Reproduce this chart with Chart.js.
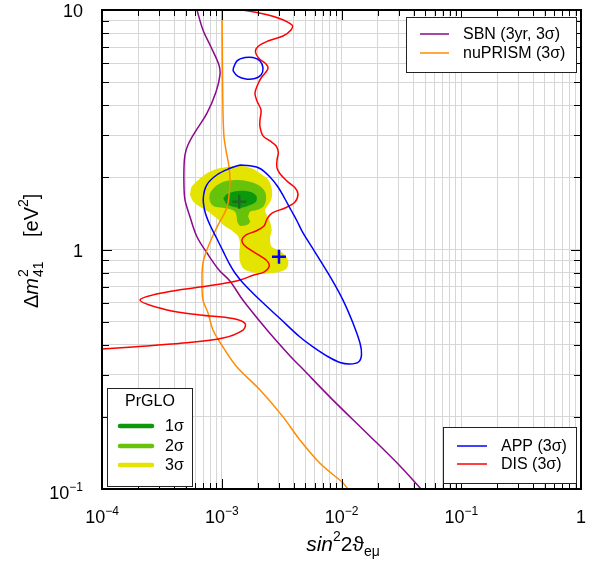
<!DOCTYPE html>
<html><head><meta charset="utf-8">
<script src="https://cdn.jsdelivr.net/npm/chart.js@4"></script>
<style>html,body{margin:0;padding:0;background:#fff;}canvas{display:block;}</style>
</head><body>
<canvas id="c" width="598" height="567"></canvas>
<script>
// ---- axis ticks ----
const xMajorTicks = [1e-4, 1e-3, 1e-2, 1e-1, 1];
const xTickBase = ['10', '10', '10', '10', '1'];
const xTickExp = ['\u22124', '\u22123', '\u22122', '\u22121', ''];
const yMajorTicks = [0.1, 1, 10];
const yTickBase = ['10', '1', '10'];
const yTickExp = ['\u22121', '', ''];
const minorSteps = [2, 3, 4, 5, 6, 7, 8, 9];

// ---- series: [sin^2 2theta, dm^2] ----
const sbn = [[6.21e-4,10],[6.97e-4,8.25],[8.13e-4,7.01],[9.48e-4,5.89],[9.66e-4,5.35],[8.95e-4,4.55],[7.53e-4,3.71],[5.98e-4,3.09],[5.22e-4,2.73],[4.93e-4,2.48],[4.84e-4,2.21],[4.84e-4,1.82],[4.93e-4,1.61],[5.43e-4,1.37],[6.21e-4,1.13],[7.53e-4,0.967],[9.48e-4,0.821],[1.17e-3,0.739],[1.50e-3,0.615],[2.39e-3,0.461],[3.72e-3,0.359],[4.50e-3,0.326],[8.49e-3,0.235],[1.63e-2,0.171],[3.08e-2,0.1248],[4.61e-2,0.1]];
const nuprism = [[1.005e-3,10],[1.01e-3,7.28],[1.023e-3,3.82],[1.044e-3,2.95],[1.084e-3,2.60],[1.15e-3,2.21],[1.17e-3,1.90],[1.107e-3,1.505],[9.12e-4,1.24],[7.68e-4,1.024],[6.97e-4,0.878],[6.84e-4,0.746],[6.97e-4,0.615],[7.68e-4,0.543],[8.45e-4,0.461],[1.023e-3,0.392],[1.34e-3,0.323],[2.09e-3,0.259],[3.25e-3,0.200],[4.50e-3,0.160],[6.61e-3,0.128],[1.03e-2,0.106],[1.13e-2,0.1]];
const dis = [[1.468e-3,10],[1.970e-3,9.76],[2.950e-3,9.26],[3.861e-3,8.66],[3.787e-3,8.25],[3.247e-3,7.79],[2.434e-3,7.42],[2.008e-3,7.04],[1.913e-3,6.68],[2.047e-3,6.27],[2.342e-3,5.95],[2.434e-3,5.73],[2.342e-3,5.51],[2.156e-3,5.25],[2.008e-3,4.91],[1.895e-3,4.50],[1.970e-3,4.17],[2.127e-3,3.82],[2.086e-3,3.47],[2.086e-3,3.25],[2.211e-3,2.98],[2.529e-3,2.84],[2.838e-3,2.71],[2.966e-3,2.55],[2.893e-3,2.36],[2.893e-3,2.19],[3.065e-3,2.07],[3.507e-3,1.93],[4.090e-3,1.81],[4.332e-3,1.705],[4.090e-3,1.58],[3.375e-3,1.49],[2.628e-3,1.42],[2.387e-3,1.34],[2.253e-3,1.253],[1.932e-3,1.195],[1.594e-3,1.15],[1.476e-3,1.096],[1.534e-3,1.044],[1.789e-3,0.986],[2.168e-3,0.930],[2.434e-3,0.886],[2.481e-3,0.845],[2.253e-3,0.805],[1.859e-3,0.782],[1.420e-3,0.746],[1.085e-3,0.725],[6.58e-4,0.697],[3.49e-4,0.665],[2.077e-4,0.615],[3.49e-4,0.559],[6.58e-4,0.533],[1.242e-3,0.515],[1.564e-3,0.491],[1.505e-3,0.461],[1.024e-3,0.427],[4.75e-4,0.407],[1.815e-4,0.392],[1.0e-4,0.384]];
const app = [[1.420e-3,2.253],[1.722e-3,2.236],[2.086e-3,2.179],[2.529e-3,2.008],[2.950e-3,1.824],[3.375e-3,1.625],[3.787e-3,1.462],[4.250e-3,1.315],[4.770e-3,1.172],[6.007e-3,0.976],[8.172e-3,0.760],[1.029e-2,0.615],[1.247e-2,0.493],[1.427e-2,0.407],[1.469e-2,0.363],[1.387e-2,0.339],[1.178e-2,0.3326],[9.716e-3,0.3375],[7.568e-3,0.359],[5.781e-3,0.392],[4.502e-3,0.431],[3.065e-3,0.515],[2.086e-3,0.615],[1.505e-3,0.725],[1.290e-3,0.798],[1.172e-3,0.862],[1.030e-3,0.979],[9.074e-4,1.114],[7.978e-4,1.265],[7.246e-4,1.438],[7.013e-4,1.636],[7.485e-4,1.859],[9.074e-4,2.047],[1.172e-3,2.183],[1.420e-3,2.253]];
const appIsland = [[1.249e-3,5.71],[1.341e-3,6.13],[1.564e-3,6.33],[1.824e-3,6.33],[2.086e-3,6.13],[2.211e-3,5.73],[2.127e-3,5.35],[1.895e-3,5.18],[1.594e-3,5.15],[1.367e-3,5.28],[1.249e-3,5.56],[1.249e-3,5.71]];
const prglo3 = [[5.43e-4,1.689],[5.61e-4,1.829],[6.37e-4,1.951],[7.49e-4,2.08],[9.07e-4,2.168],[1.134e-3,2.216],[1.468e-3,2.232],[1.779e-3,2.183],[2.086e-3,2.08],[2.448e-3,1.951],[2.613e-3,1.800],[2.613e-3,1.636],[2.448e-3,1.534],[2.297e-3,1.462],[2.374e-3,1.393],[2.529e-3,1.306],[2.613e-3,1.206],[2.529e-3,1.114],[2.613e-3,1.027],[2.966e-3,0.995],[3.375e-3,0.948],[3.596e-3,0.889],[3.487e-3,0.834],[3.065e-3,0.808],[2.529e-3,0.796],[2.086e-3,0.796],[1.722e-3,0.808],[1.514e-3,0.834],[1.420e-3,0.889],[1.401e-3,0.964],[1.420e-3,1.061],[1.375e-3,1.131],[1.249e-3,1.187],[1.030e-3,1.265],[9.07e-4,1.350],[7.72e-4,1.438],[6.58e-4,1.509],[5.79e-4,1.584],[5.43e-4,1.689]];
const prglo2 = [[7.87e-4,1.636],[7.98e-4,1.717],[8.78e-4,1.829],[1.030e-3,1.919],[1.290e-3,1.951],[1.616e-3,1.932],[2.020e-3,1.859],[2.297e-3,1.743],[2.342e-3,1.609],[2.223e-3,1.509],[1.958e-3,1.462],[1.722e-3,1.438],[1.666e-3,1.371],[1.722e-3,1.306],[1.616e-3,1.265],[1.420e-3,1.257],[1.349e-3,1.306],[1.333e-3,1.371],[1.290e-3,1.438],[1.100e-3,1.486],[8.78e-4,1.509],[8.09e-4,1.560],[7.87e-4,1.636]];
const prglo1 = [[1.030e-3,1.636],[1.100e-3,1.701],[1.249e-3,1.743],[1.514e-3,1.760],[1.779e-3,1.733],[1.958e-3,1.662],[1.932e-3,1.584],[1.722e-3,1.534],[1.468e-3,1.494],[1.249e-3,1.509],[1.100e-3,1.545],[1.030e-3,1.636]];
const prgloBest = [[1.401e-3,1.584]];
const appBest = [[3.007e-3,0.933]];

const legendTopLabels = ['SBN (3yr, 3\u03c3)', 'nuPRISM (3\u03c3)'];
const legendBottomLabels = ['APP (3\u03c3)', 'DIS (3\u03c3)'];
const prgloTitle = 'PrGLO';
const prgloLabels = ['1\u03c3', '2\u03c3', '3\u03c3'];

// ---- colours ----
const C = {sbn:'#8b0a8b', nup:'#ff8c00', app:'#0000ff', dis:'#ff0000',
           s1:'#0b990b', s2:'#66c20a', s3:'#e4e400', best:'#1f6a1f'};
const FF = "'Liberation Sans', Arial, Helvetica, 'DejaVu Sans', sans-serif";

function buildTicks(majors){
  const t = [];
  majors.forEach((m,i)=>{
    t.push({value:m, major:true});
    if (i < majors.length-1) minorSteps.forEach(s=>t.push({value:m*s, major:false}));
  });
  return t;
}
const xTicks = buildTicks(xMajorTicks);
const yTicks = buildTicks(yMajorTicks);

const toXY = a => a.map(p=>({x:p[0], y:p[1]}));
const lineDs = (label, arr, color, order) => ({label, data:toXY(arr), showLine:true, borderColor:color,
  backgroundColor:color, borderWidth:1.5, pointRadius:0, tension:0.35, fill:false, order});
const areaDs = (label, arr, color, order) => ({label, data:toXY(arr), showLine:true, borderColor:'rgba(0,0,0,0)',
  backgroundColor:color, borderWidth:1, pointRadius:0, tension:0.3, fill:'shape', order});
const markDs = (label, arr, color, order) => ({label, data:toXY(arr), showLine:false, pointStyle:'cross',
  pointRadius:7, borderColor:color, backgroundColor:color, pointBorderWidth:2.5, borderWidth:2.5, order});

function drawParts(ctx, parts, x, y, align){
  let w = 0;
  parts.forEach(p=>{ ctx.font = p.f; p.w = p.t ? ctx.measureText(p.t).width : 0; w += p.w; });
  let cx = align==='center' ? x - w/2 : (align==='right' ? x - w : x);
  ctx.textAlign = 'left'; ctx.textBaseline = 'alphabetic';
  parts.forEach(p=>{ ctx.font = p.f; if (p.t) ctx.fillText(p.t, cx, y + (p.dy||0)); cx += p.w; });
}

const overlay = {
  id:'overlay',
  afterDraw(chart){
    const {ctx, chartArea:a, scales:{x, y}} = chart;
    ctx.save();
    // inward tick marks on all four sides
    ctx.strokeStyle = '#000'; ctx.lineWidth = 1;
    ctx.beginPath();
    xTicks.forEach(t=>{
      const p = Math.round(x.getPixelForValue(t.value)) + 0.5;
      const L = t.major ? 10 : 6;
      ctx.moveTo(p, a.bottom); ctx.lineTo(p, a.bottom - L);
      ctx.moveTo(p, a.top); ctx.lineTo(p, a.top + L);
    });
    yTicks.forEach(t=>{
      const p = Math.round(y.getPixelForValue(t.value)) + 0.5;
      const L = t.major ? 10 : 7;
      ctx.moveTo(a.left, p); ctx.lineTo(a.left + L, p);
      ctx.moveTo(a.right, p); ctx.lineTo(a.right - L, p);
    });
    ctx.stroke();
    // frame
    ctx.lineWidth = 2;
    ctx.strokeRect(a.left, a.top, a.right - a.left, a.bottom - a.top);

    // tick labels
    ctx.fillStyle = '#000';
    xMajorTicks.forEach((v,i)=>{
      drawParts(ctx, [{t:xTickBase[i], f:'18px '+FF}, {t:xTickExp[i], f:'12px '+FF, dy:-8}],
        x.getPixelForValue(v), a.bottom + 34, 'center');
    });
    yMajorTicks.forEach((v,i)=>{
      const p = y.getPixelForValue(v);
      drawParts(ctx, [{t:yTickBase[i], f:'18px '+FF}, {t:yTickExp[i], f:'12px '+FF, dy:-8}],
        a.left - 19, p + (yTickExp[i] ? 10 : 7), 'right');
    });

    // x title
    drawParts(ctx, [{t:'sin', f:'italic 21px '+FF}, {t:'2', f:'14px '+FF, dy:-10},
      {t:'2\u03d1', f:'21px '+FF}, {t:'e\u03bc', f:'14px '+FF, dy:5}], 343, 551, 'center');

    // y title (rotated)
    ctx.save();
    ctx.translate(38, 308); ctx.rotate(-Math.PI/2);
    ctx.textAlign = 'left'; ctx.textBaseline = 'alphabetic';
    let cx = 0;
    ctx.font = '20px '+FF; ctx.fillText('\u0394', cx, 0); cx += ctx.measureText('\u0394').width;
    ctx.font = 'italic 20px '+FF; ctx.fillText('m', cx, 0); cx += ctx.measureText('m').width + 1;
    ctx.font = '14px '+FF; ctx.fillText('2', cx, -10); ctx.fillText('41', cx, 5);
    cx = 71;
    ctx.font = '20px '+FF; ctx.fillText('[eV', cx, 0); cx += ctx.measureText('[eV').width;
    ctx.font = '14px '+FF; ctx.fillText('2', cx, -10); cx += ctx.measureText('2').width;
    ctx.font = '20px '+FF; ctx.fillText(']', cx, 0);
    ctx.restore();

    // legend boxes
    function box(x1,y1,x2,y2){
      ctx.fillStyle = '#fff'; ctx.fillRect(x1, y1, x2-x1, y2-y1);
      ctx.strokeStyle = '#222'; ctx.lineWidth = 1; ctx.strokeRect(x1+0.5, y1+0.5, x2-x1, y2-y1);
    }
    function item(x1, x2, yy, color, lw, label, tx){
      ctx.strokeStyle = color; ctx.lineWidth = lw; ctx.lineCap = lw > 2 ? 'round' : 'butt';
      ctx.beginPath(); ctx.moveTo(x1, yy); ctx.lineTo(x2, yy); ctx.stroke();
      ctx.fillStyle = '#000'; ctx.font = '16px '+FF; ctx.textAlign = 'left'; ctx.textBaseline = 'middle';
      ctx.fillText(label, tx, yy + 1);
    }
    const ds = chart.data.datasets;
    box(406, 17, 576, 72);
    item(420, 449, 34, ds[0].borderColor, 1.5, legendTopLabels[0], 463);
    item(420, 449, 53, ds[1].borderColor, 1.5, legendTopLabels[1], 463);
    box(443, 427, 576, 483);
    item(457, 487, 446, ds[3].borderColor, 1.5, legendBottomLabels[0], 501);
    item(457, 487, 464, ds[2].borderColor, 1.5, legendBottomLabels[1], 501);
    box(107, 388, 192, 486);
    ctx.fillStyle = '#000'; ctx.font = '16px '+FF; ctx.textAlign = 'center'; ctx.textBaseline = 'middle';
    ctx.fillText(prgloTitle, 150, 402);
    item(120, 152, 426, C.s1, 4.5, prgloLabels[0], 165);
    item(120, 152, 446, C.s2, 4.5, prgloLabels[1], 165);
    item(120, 152, 465, C.s3, 4.5, prgloLabels[2], 165);
    ctx.restore();
  }
};

new Chart(document.getElementById('c'), {
  type:'scatter',
  data:{datasets:[
    lineDs('SBN (3yr, 3\u03c3)', sbn, C.sbn, 5),
    lineDs('nuPRISM (3\u03c3)', nuprism, C.nup, 4),
    lineDs('DIS (3\u03c3)', dis, C.dis, 3),
    lineDs('APP (3\u03c3)', app, C.app, 2),
    lineDs('APP (3\u03c3) island', appIsland, C.app, 2),
    areaDs('PrGLO 3\u03c3', prglo3, C.s3, 10),
    areaDs('PrGLO 2\u03c3', prglo2, C.s2, 9),
    areaDs('PrGLO 1\u03c3', prglo1, C.s1, 8),
    markDs('PrGLO best fit', prgloBest, C.best, 0),
    markDs('APP best fit', appBest, C.app, 0)
  ]},
  options:{
    responsive:false, animation:false, devicePixelRatio:1, events:[],
    layout:{padding:{left:102, right:17, top:10, bottom:78}},
    plugins:{legend:{display:false}, tooltip:{enabled:false}},
    scales:{
      x:{type:'logarithmic', min:1e-4, max:1,
         afterBuildTicks:s=>{ s.ticks = xTicks.map(t=>({value:t.value, major:t.major})); },
         ticks:{display:false}, grid:{color:'#d6d6d6', lineWidth:1, drawTicks:false}, border:{display:false}},
      y:{type:'logarithmic', min:0.1, max:10,
         afterBuildTicks:s=>{ s.ticks = yTicks.map(t=>({value:t.value, major:t.major})); },
         ticks:{display:false}, grid:{color:'#d6d6d6', lineWidth:1, drawTicks:false}, border:{display:false}}
    }
  },
  plugins:[overlay]
});
</script>
</body></html>
